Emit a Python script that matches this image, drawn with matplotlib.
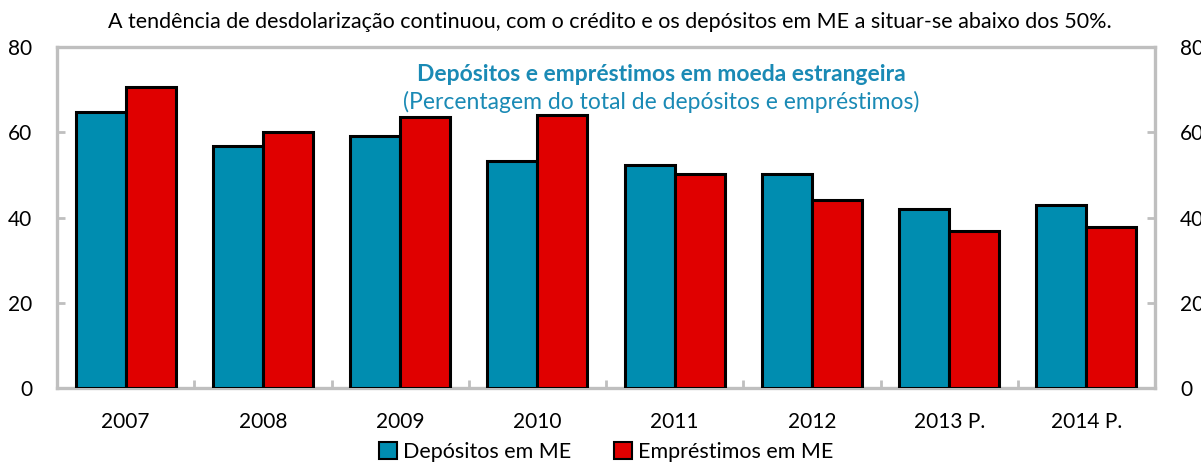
import numpy as np
import matplotlib
matplotlib.use("Agg")
import matplotlib.pyplot as plt
from matplotlib.patches import Patch

plt.rcParams['font.family'] = ['Lato', 'DejaVu Sans']

#data
years = ["2007", "2008", "2009", "2010", "2011", "2012", "2013 P.", "2014 P."]
depositos = [64.8, 56.8, 59.2, 53.3, 52.4, 50.2, 42.1, 42.9]
emprestimos = [70.7, 60.1, 63.6, 64.0, 50.2, 44.0, 36.9, 37.7]

blue = '#008DB0'
red = '#E00000'
grey = '#BFBFBF'

fig = plt.figure(figsize=(12.01, 4.66), dpi=100)
ax = fig.add_axes([0.0475, 0.1674, 0.9142, 0.7316])

x = np.arange(len(years))
w = 0.365
ax.bar(x - w / 2, depositos, w, color=blue, edgecolor='black', linewidth=2.2, zorder=3)
ax.bar(x + w / 2, emprestimos, w, color=red, edgecolor='black', linewidth=2.2, zorder=3)

ax.set_xlim(-0.5, len(years) - 0.5)
ax.set_ylim(0, 80)
ax.set_yticks([0, 20, 40, 60, 80])

# frame
for s in ax.spines.values():
    s.set_color(grey)
    s.set_linewidth(2.4)
    s.set_zorder(1)

ax.set_xticks(x)
ax.set_xticklabels(years)
ax.set_xticks(np.arange(-0.5, len(years)), minor=True)
ax.tick_params(axis='x', which='major', length=0, labelsize=15, pad=17)
ax.tick_params(axis='x', which='minor', direction='in', length=6, width=2, color=grey)
ax.tick_params(axis='y', direction='in', length=6, width=2, color=grey, labelsize=15,
               left=True, right=True, labelleft=True, labelright=True, pad=18)

# titles
fig.text(0.508, 0.953, "A tendência de desdolarização continuou, com o crédito e os depósitos em ME a situar-se abaixo dos 50%.",
         ha='center', va='center', fontsize=15.5)
ax.text(0.55, 0.92, "Depósitos e empréstimos em moeda estrangeira", transform=ax.transAxes,
        ha='center', va='center', fontsize=16.5, fontweight='bold', color='#1A8AB5')
ax.text(0.55, 0.838, "(Percentagem do total de depósitos e empréstimos)", transform=ax.transAxes,
        ha='center', va='center', fontsize=16.5, color='#1A8AB5')

handles = [Patch(facecolor=blue, edgecolor='black', linewidth=1.5),
           Patch(facecolor=red, edgecolor='black', linewidth=1.5)]
fig.legend(handles, ["Depósitos em ME", "Empréstimos em ME"], loc='center',
           bbox_to_anchor=(0.505, 0.03), ncol=2, frameon=False, fontsize=15.5,
           handlelength=0.8, handleheight=0.8, handletextpad=0.3, columnspacing=2.0,
           borderaxespad=0, borderpad=0)

fig.savefig("out.png", dpi=100)
